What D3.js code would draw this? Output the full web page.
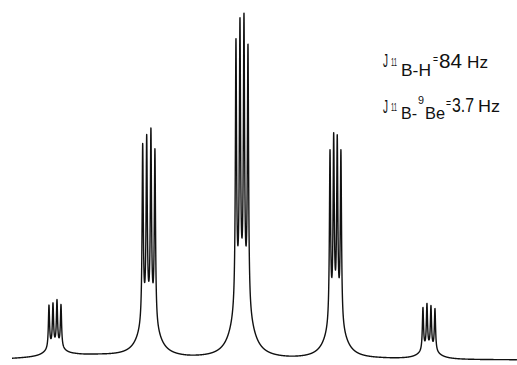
<!DOCTYPE html>
<html>
<head>
<meta charset="utf-8">
<script src="https://cdn.jsdelivr.net/npm/d3@7"></script>
<style>
  html, body { margin: 0; padding: 0; background: #fff; }
  svg { display: block; }
  text { font-family: "Liberation Sans", "DejaVu Sans", sans-serif; fill: #111; }
</style>
</head>
<body>
<svg id="chart" width="517" height="365"></svg>
<script>
// ---- data (offsets in Hz from the central multiplet) ----
// 11B quintet (J B-H = 84 Hz), each line split into a 1:1:1:1 quartet by 9Be (J = 3.7 Hz)
const multiplet1 = [-173.4, -169.8, -166.2, -162.6];
const multiplet2 = [-89.2, -85.6, -81.8, -78.2];
const multiplet3 = [-5.4, -1.8, 1.8, 5.4];
const multiplet4 = [79.1, 82.4, 85.6, 88.9];
const multiplet5 = [162.6, 166.2, 169.8, 173.4];
// observed line heights above baseline (relative units, tallest ~100)
const heights1 = [15.4, 16.0, 16.9, 15.4];
const heights2 = [62.9, 65.6, 67.6, 61.5];
const heights3 = [94.4, 100.6, 102.0, 92.9];
const heights4 = [61.8, 66.8, 66.2, 61.8];
const heights5 = [15.4, 16.6, 16.0, 15.1];
// baseline level read at points away from the lines
const baselineHz = [-206.6, -181.5, -150.0, -127.6, -49.4, 43.1, 124.0, 195.9, 247.1];
const baselineLevel = [0.3, 0.6, 1.2, 1.2, 0.3, 0.0, 0.15, 0.0, 0.0];
// annotation texts
const label1 = { J: "J", mass: "11", sub: "B-H", eq: "=", value: "84", unit: "Hz" };
const label2 = { J: "J", mass: "11", sub: "B-", mass2: "9", sub2: "Be", eq: "=", value: "3.7", unit: "Hz" };

// ---- line shape parameters (Hz) ----
const gN = 0.63, gB = 7.2, fB = 0.06;
function shape(d) {
  return (1 - fB) * gN * gN / (gN * gN + d * d) + fB * gB * gB / (gB * gB + d * d);
}

const positions = [].concat(multiplet1, multiplet2, multiplet3, multiplet4, multiplet5);
const targets = [].concat(heights1, heights2, heights3, heights4, heights5);
// find line amplitudes so that the summed trace reaches the observed heights
let amps = targets.slice();
for (let it = 0; it < 30; it++) {
  const next = amps.map((a, i) => {
    let m = 0;
    for (let j = 0; j < positions.length; j++) m += amps[j] * shape(positions[i] - positions[j]);
    return a * targets[i] / m;
  });
  amps = next;
}

const W = 517, H = 365;
const x = d3.scaleLinear().domain([-217.4, 247.1]).range([0, W]);
const y = d3.scaleLinear().domain([0, 100]).range([360, 20]);
const base = d3.scaleLinear().domain(baselineHz).range(baselineLevel).clamp(true);

const hzStart = x.invert(12), hzEnd = x.invert(W);
const pts = d3.range(hzStart, hzEnd, 0.06).map(hz => {
  let v = base(hz);
  for (let j = 0; j < positions.length; j++) v += amps[j] * shape(hz - positions[j]);
  return [hz, v];
});

const svg = d3.select("#chart");
svg.append("rect").attr("width", W).attr("height", H).attr("fill", "#fff");

svg.append("path")
  .datum(pts)
  .attr("fill", "none")
  .attr("stroke", "#111")
  .attr("stroke-width", 1.4)
  .attr("stroke-linejoin", "round")
  .attr("d", d3.line().x(d => x(d[0])).y(d => y(d[1])));

// ---- annotation ----
function piece(str, px, py, size, len) {
  svg.append("text").attr("x", px).attr("y", py).attr("font-size", size)
    .attr("textLength", len).attr("lengthAdjust", "spacingAndGlyphs").text(str);
}
piece(label1.J, 383, 67, 18, 5);
piece(label1.mass, 391, 66, 11, 6);
piece(label1.sub, 401, 76, 16, 30);
piece(label1.eq, 433, 63, 12, 5);
piece(label1.value, 439, 68, 20, 23);
piece(label1.unit, 467, 68, 16, 21);

piece(label2.J, 383, 113, 18, 5);
piece(label2.mass, 391, 111, 11, 6);
piece(label2.sub, 401, 119, 16, 16);
piece(label2.mass2, 418, 104, 10, 6);
piece(label2.sub2, 425, 119, 16, 20);
piece(label2.eq, 446, 107, 12, 5);
piece(label2.value, 452, 112, 20, 22);
piece(label2.unit, 478, 112, 16, 22);
</script>
</body>
</html>
